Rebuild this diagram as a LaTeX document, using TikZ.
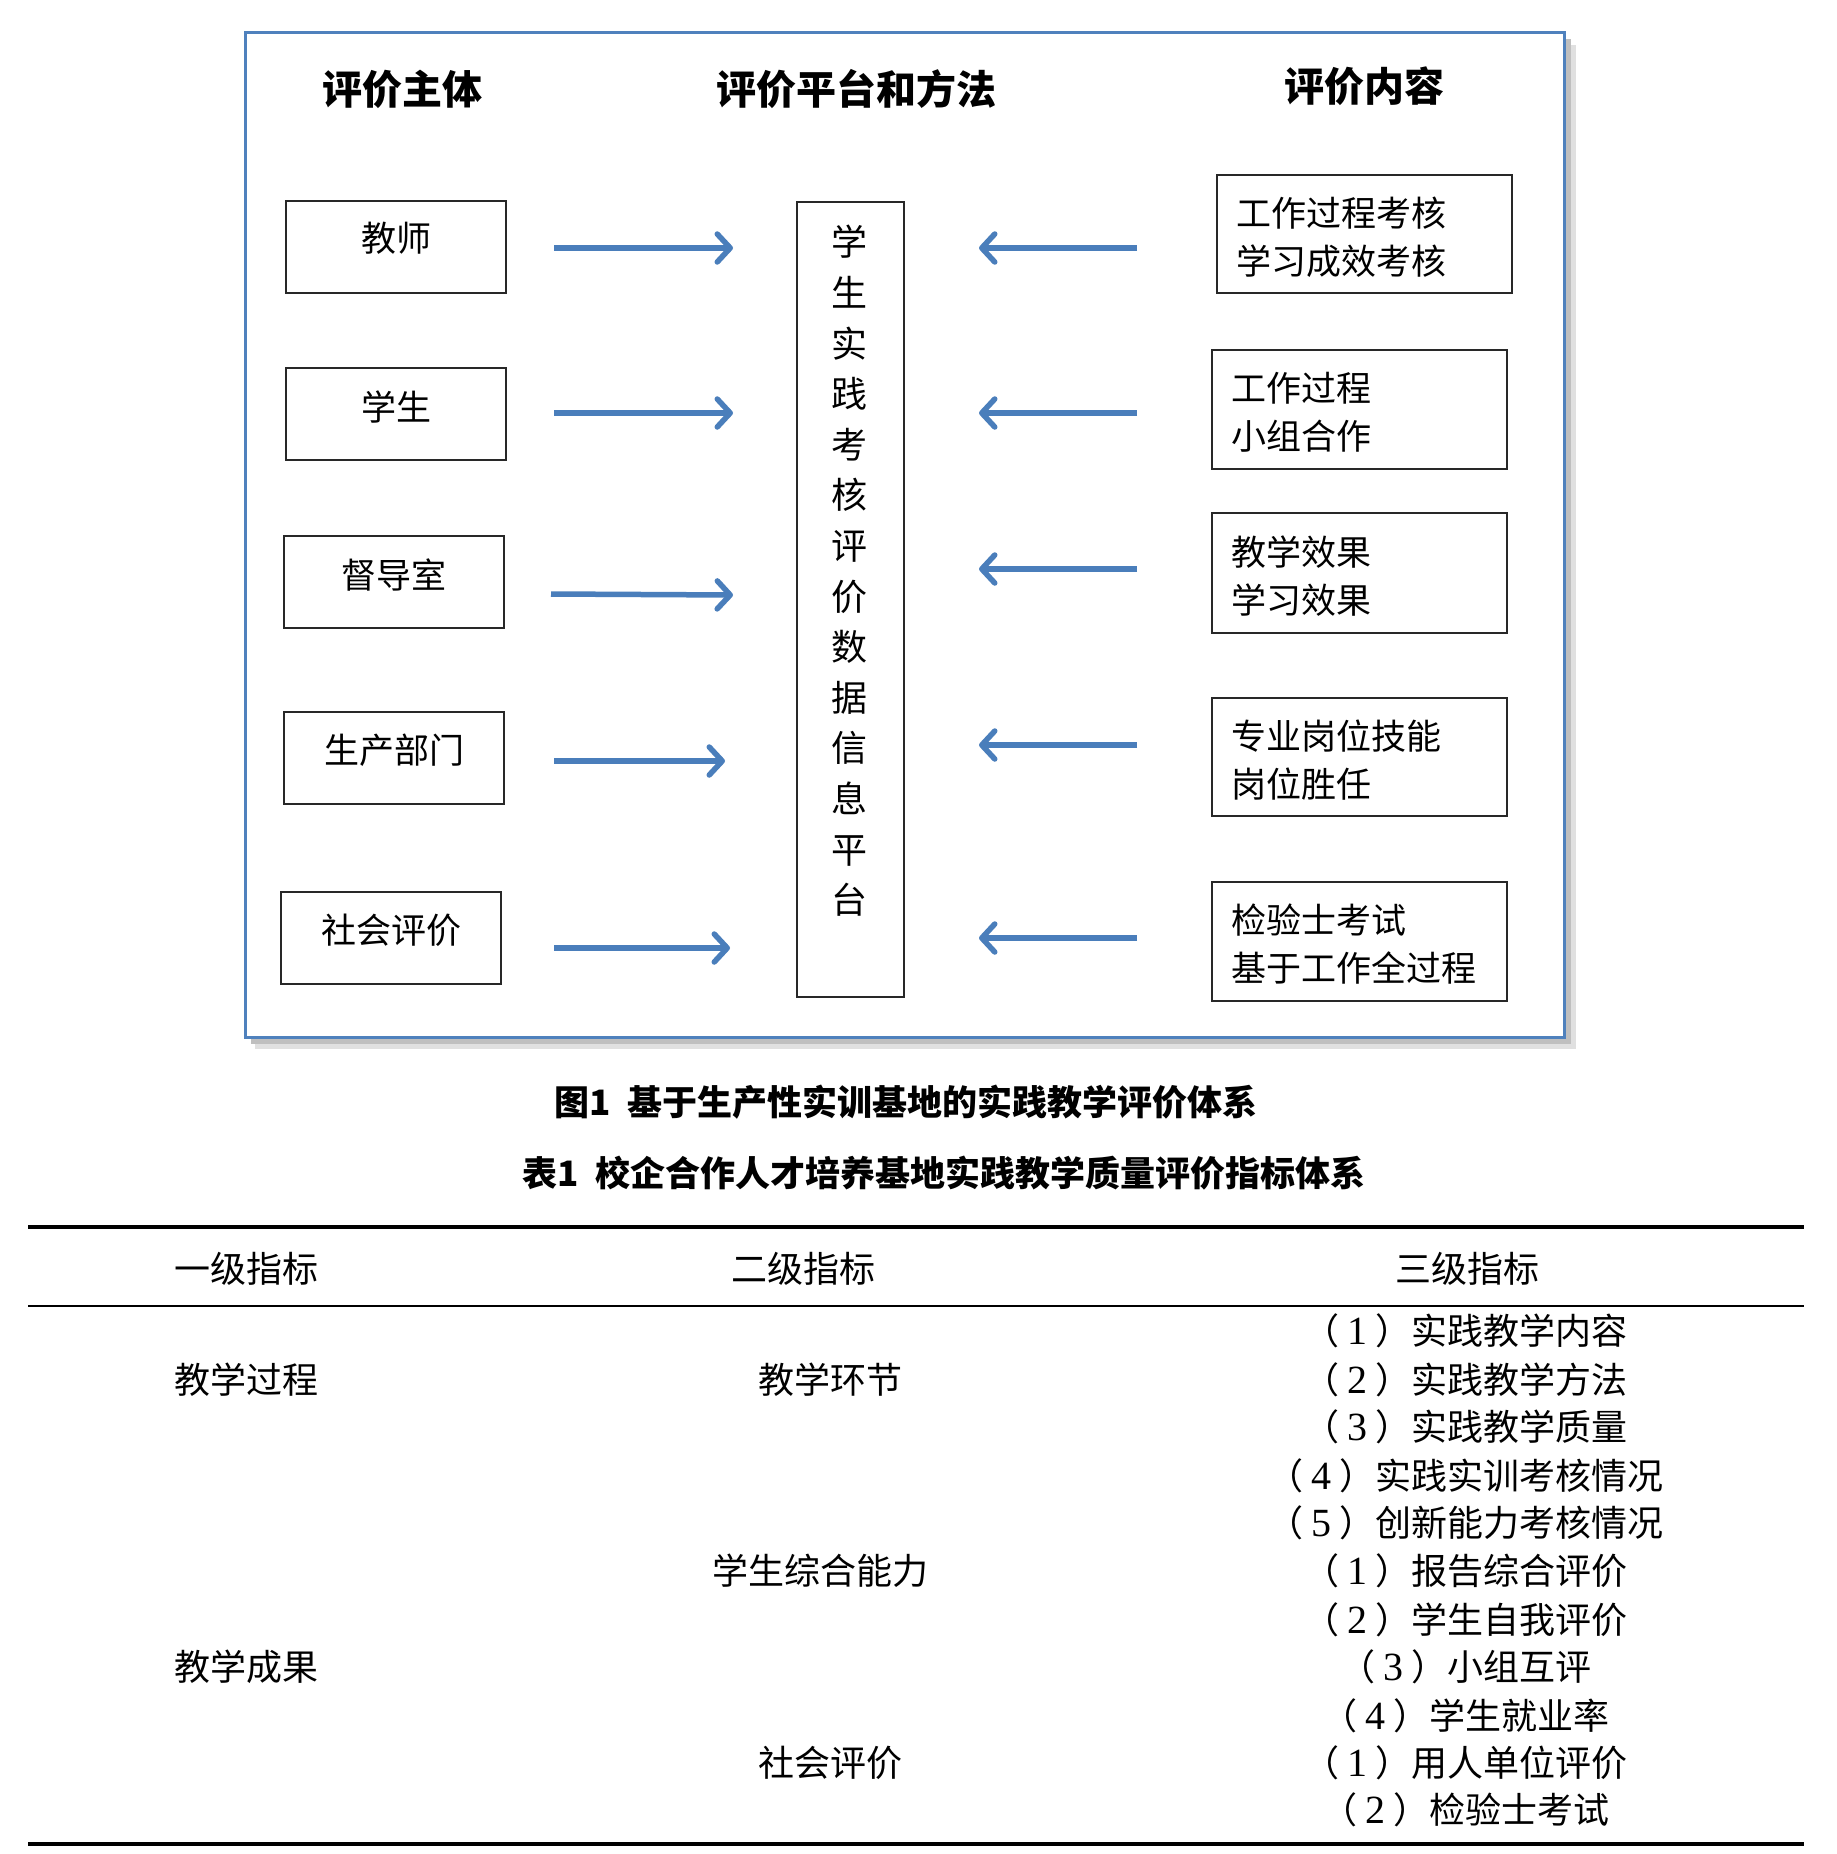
\documentclass[tikz,border=0pt]{standalone}
\usepackage{fontspec}
\setmainfont{Liberation Serif}
\newfontfamily\cjk{Noto Sans CJK SC}
\usetikzlibrary{arrows.meta}
\definecolor{frameblue}{RGB}{79,129,189}
\definecolor{arrowblue}{RGB}{74,126,187}
\definecolor{boxline}{RGB}{40,40,40}
\newcommand{\fsz}[1]{\fontsize{#1pt}{#1pt}\selectfont}
\newcommand{\dg}[1]{\hspace{8pt}{\rmfamily\fontsize{40pt}{40pt}\selectfont #1}\hspace{8pt}}
\begin{document}
\begin{tikzpicture}[x=1pt,y=-1pt,
  box/.style={draw=boxline, line width=2.8pt, inner sep=0pt},
  lbox/.style={box, minimum width=220pt, minimum height=92pt},
  rbox/.style={box, minimum width=295pt, minimum height=119pt},
  btxt/.style={inner sep=0pt, font=\cjk\fsz{35}},
  rtxt/.style={inner sep=0pt, anchor=west, align=left, font=\cjk\fontsize{35pt}{48pt}\selectfont},
  headtxt/.style={inner sep=0pt, font=\cjk\bfseries\fsz{40}},
  captxt/.style={inner sep=0pt, font=\cjk\bfseries\fsz{35}},
  ttxt/.style={inner sep=0pt, font=\cjk\fsz{36}},
  arr/.style={draw=arrowblue, line width=5.5pt, -{Straight Barb[length=13pt,width=28pt,round]}},
  rulestyle/.style={line width=4pt, draw=black}
]
\useasboundingbox (0,0) rectangle (1836,1854);
% frame with shadow
\fill[black!12] (255,45) rectangle (1576,1049);
\fill[black!25] (251,39) rectangle (1571,1044);
\draw[frameblue, line width=3pt, fill=white] (245,33) rectangle (1564,1037);
% headers
\node[headtxt] (h1) at (402,89) {评价主体};
\node[headtxt] (h2) at (856,89) {评价平台和方法};
\node[headtxt] (h3) at (1364,86) {评价内容};
% left boxes
\node[lbox] (l1) at (396,247) {};
\node[lbox] (l2) at (396,414) {};
\node[lbox] (l3) at (394,582) {};
\node[lbox] (l4) at (394,758) {};
\node[lbox] (l5) at (391,938) {};
\node[btxt] (l1t) at ([yshift=9pt]l1.center) {教师};
\node[btxt] (l2t) at ([yshift=7pt]l2.center) {学生};
\node[btxt] (l3t) at ([yshift=7pt]l3.center) {督导室};
\node[btxt] (l4t) at ([yshift=8pt]l4.center) {生产部门};
\node[btxt] (l5t) at ([yshift=8pt]l5.center) {社会评价};
% center box
\node[box, minimum width=107pt, minimum height=795pt] (c) at (850.5,599.5) {};
\node[inner sep=0pt, align=center, font=\cjk\fontsize{36pt}{50.6pt}\selectfont] (ct) at (849,571)
  {学\\生\\实\\践\\考\\核\\评\\价\\数\\据\\信\\息\\平\\台};
% right boxes
\node[rbox, minimum height=118pt] (r1) at (1364.5,234) {};
\node[rbox] (r2) at (1359.5,409.5) {};
\node[rbox, minimum height=120pt] (r3) at (1359.5,573) {};
\node[rbox, minimum height=118pt] (r4) at (1359.5,757) {};
\node[rbox] (r5) at (1359.5,941.5) {};
\node[rtxt] (r1t) at ([xshift=21pt,yshift=-3pt]r1.west) {工作过程考核\\学习成效考核};
\node[rtxt] (r2t) at ([xshift=21pt,yshift=-3pt]r2.west) {工作过程\\小组合作};
\node[rtxt] (r3t) at ([xshift=21pt,yshift=-3pt]r3.west) {教学效果\\学习效果};
\node[rtxt] (r4t) at ([xshift=21pt,yshift=-3pt]r4.west) {专业岗位技能\\岗位胜任};
\node[rtxt] (r5t) at ([xshift=21pt,yshift=-3pt]r5.west) {检验士考试\\基于工作全过程};
% arrows
\coordinate (a1s) at (554,248); \coordinate (a1e) at (733,248);
\coordinate (a2s) at (554,413); \coordinate (a2e) at (733,413);
\coordinate (a3s) at (551,594); \coordinate (a3e) at (733,595);
\coordinate (a4s) at (554,761); \coordinate (a4e) at (725,761);
\coordinate (a5s) at (554,948); \coordinate (a5e) at (730,948);
\draw[arr] (a1s) -- (a1e);
\draw[arr] (a2s) -- (a2e);
\draw[arr] (a3s) -- (a3e);
\draw[arr] (a4s) -- (a4e);
\draw[arr] (a5s) -- (a5e);
\coordinate (b1s) at (1137,248); \coordinate (b1e) at (979,248);
\coordinate (b2s) at (1137,413); \coordinate (b2e) at (979,413);
\coordinate (b3s) at (1137,569); \coordinate (b3e) at (979,569);
\coordinate (b4s) at (1137,745); \coordinate (b4e) at (979,745);
\coordinate (b5s) at (1137,938); \coordinate (b5e) at (979,938);
\draw[arr] (b1s) -- (b1e);
\draw[arr] (b2s) -- (b2e);
\draw[arr] (b3s) -- (b3e);
\draw[arr] (b4s) -- (b4e);
\draw[arr] (b5s) -- (b5e);
% captions
\node[captxt] (cap1) at (906,1102) {图1\enspace 基于生产性实训基地的实践教学评价体系};
\node[captxt] (cap2) at (944,1173) {表1\enspace 校企合作人才培养基地实践教学质量评价指标体系};
% table
\draw[rulestyle] (28,1227) -- (1804,1227);
\draw[rulestyle, line width=2.5pt] (28,1306) -- (1804,1306);
\draw[rulestyle] (28,1844) -- (1804,1844);
\node[ttxt] (th1) at (246,1269) {一级指标};
\node[ttxt] (th2) at (803,1269) {二级指标};
\node[ttxt] (th3) at (1467,1269) {三级指标};
\node[ttxt] (p1) at (246,1380) {教学过程};
\node[ttxt] (p2) at (246,1667) {教学成果};
\node[ttxt] (s1) at (830,1380) {教学环节};
\node[ttxt] (s2) at (820,1571) {学生综合能力};
\node[ttxt] (s3) at (830,1763) {社会评价};
\node[ttxt] (q1) at (1465,1331) {（\dg{1}）实践教学内容};
\node[ttxt] (q2) at (1465,1380) {（\dg{2}）实践教学方法};
\node[ttxt] (q3) at (1465,1427) {（\dg{3}）实践教学质量};
\node[ttxt] (q4) at (1465,1476) {（\dg{4}）实践实训考核情况};
\node[ttxt] (q5) at (1465,1523) {（\dg{5}）创新能力考核情况};
\node[ttxt] (q6) at (1465,1571) {（\dg{1}）报告综合评价};
\node[ttxt] (q7) at (1465,1620) {（\dg{2}）学生自我评价};
\node[ttxt] (q8) at (1465,1667) {（\dg{3}）小组互评};
\node[ttxt] (q9) at (1465,1716) {（\dg{4}）学生就业率};
\node[ttxt] (q10) at (1465,1763) {（\dg{1}）用人单位评价};
\node[ttxt] (q11) at (1465,1810) {（\dg{2}）检验士考试};
\end{tikzpicture}
\end{document}
